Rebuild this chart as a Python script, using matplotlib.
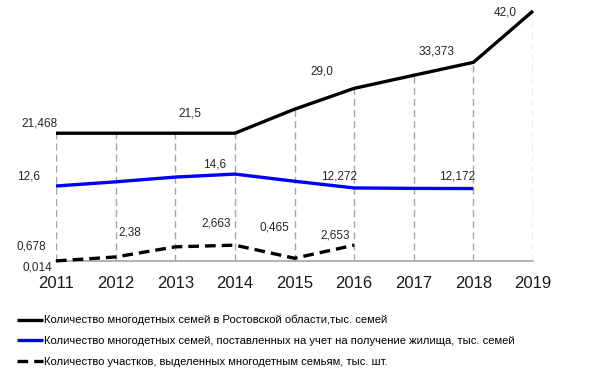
import matplotlib.pyplot as plt

plt.rcParams['font.family'] = ['Liberation Sans', 'DejaVu Sans']

# ====================== данные ======================
years = [2011, 2012, 2013, 2014, 2015, 2016, 2017, 2018, 2019]

families = [21.468, 21.468, 21.468, 21.468, 25.5, 29.0, 31.2, 33.373, 42.0]
queue = [12.6, 13.3, 14.1, 14.6, 13.4, 12.272, 12.2, 12.172]
plots = [0.014, 0.678, 2.38, 2.663, 0.465, 2.653]

# подписи: (индекс точки, текст, смещение в пикселях)
families_labels = [(0, '21,468', (-16, 10)), (3, '21,5', (-45, 20)),
                   (5, '29,0', (-32, 17)), (7, '33,373', (-37, 11)),
                   (8, '42,0', (-28, -1))]
queue_labels = [(0, '12,6', (-27, 10)), (3, '14,6', (-20, 10)),
                (5, '12,272', (-15, 11)), (7, '12,172', (-16, 12))]
plots_labels = [(0, '0,014', (-19, -7)), (1, '0,678', (-84, 10)),
                (2, '2,38', (-45, 14)), (3, '2,663', (-19, 22)),
                (4, '0,465', (-20, 31)), (5, '2,653', (-19, 10))]

legend_names = ['Количество многодетных семей в Ростовской области,тыс. семей',
                'Количество многодетных семей, поставленных на учет на получение жилища, тыс. семей',
                'Количество участков, выделенных многодетным семьям, тыс. шт.']

# ====================== рисунок ======================
W, H = 600, 379
fig = plt.figure(figsize=(W / 100, H / 100), dpi=100)
ax = fig.add_axes([56 / W, (H - 261) / H, 477 / W, 250 / H])
ax.set_xlim(2011, 2019)
ax.set_ylim(0, 42)
ax.axis('off')

# вертикальные пунктирные линии до основной линии
ax.vlines(years, 0, families, colors='#a6a6a6', linestyles=(0, (5, 3)),
          linewidth=1, zorder=1)
ax.plot([years[0], years[-1]], [0, 0], color='#a6a6a6', lw=1.2, zorder=1,
        clip_on=False)

l1, = ax.plot(years, families, color='black', lw=2.4, zorder=3,
              solid_capstyle='butt', clip_on=False)
l2, = ax.plot(years[:len(queue)], queue, color='#0000ff', lw=2.4, zorder=3,
              solid_capstyle='butt', clip_on=False)
l3, = ax.plot(years[:len(plots)], plots, color='black', lw=2.4, zorder=3,
              dashes=(3.2, 1.8), clip_on=False)

for series, labels in ((families, families_labels), (queue, queue_labels),
                       (plots, plots_labels)):
    for i, txt, off in labels:
        ax.annotate(txt, xy=(years[i], series[i]), xytext=off,
                    textcoords='offset pixels', ha='center', va='center',
                    fontsize=8.5, color='#262626', annotation_clip=False)

# подписи годов
for y in years:
    ax.annotate(str(y), xy=(y, 0), xytext=(0, -22), textcoords='offset pixels',
                ha='center', va='center', fontsize=12, color='#1a1a1a',
                annotation_clip=False)

fig.legend([l1, l2, l3], legend_names, loc='upper left',
           bbox_to_anchor=(17 / W, 1 - 315 / H), frameon=False, fontsize=8.1,
           handlelength=2.3, handletextpad=0.1, labelspacing=0.95,
           borderaxespad=0, borderpad=0)

fig.savefig('out.png', dpi=100)
